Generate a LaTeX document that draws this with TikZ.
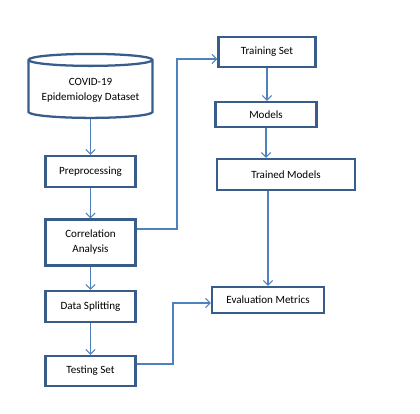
\documentclass[tikz,border=0pt]{standalone}
\usepackage{fontspec}
\setmainfont{Carlito}
\usetikzlibrary{shapes.geometric,arrows.meta}

\begin{document}
\begin{tikzpicture}[x=0.75pt,y=0.75pt,yscale=-1,xscale=1,
  box/.style={draw={rgb, 255:red, 56; green, 93; blue, 138}, line width=1.7pt, fill=white, inner sep=0.75pt, align=center, font=\fontsize{8.3}{11.2}\selectfont},
  arr/.style={draw={rgb, 255:red, 79; green, 129; blue, 189}, line width=0.8pt, -{Straight Barb[length=3.5pt,width=7pt]}}]
%set diagram left start at 0, and has height of 413
\useasboundingbox (0,0) rectangle (420,413);

%Shape: Can [id:data]
\node [box, cylinder, shape border rotate=90, aspect=0.12, minimum width=93pt, minimum height=48pt] (data) at (90.5,90) {COVID-19\\Epidemiology Dataset};
%Shape: Rectangle [id:prep]
\node [box, minimum width=67.5pt, minimum height=23.25pt] (prep) at (90.5,171.5) {Preprocessing};
%Shape: Rectangle [id:corr]
\node [box, minimum width=67.5pt, minimum height=34.5pt] (corr) at (90.5,242.5) {Correlation\\Analysis};
%Shape: Rectangle [id:split]
\node [box, minimum width=67.5pt, minimum height=23.25pt] (split) at (90.5,306.5) {Data Splitting};
%Shape: Rectangle [id:test]
\node [box, minimum width=67.5pt, minimum height=22.5pt] (test) at (90.5,371) {Testing Set};
%Shape: Rectangle [id:train]
\node [box, minimum width=72.75pt, minimum height=22.5pt] (train) at (267,52) {Training Set};
%Shape: Rectangle [id:models]
\node [box, minimum width=75.75pt, minimum height=18.75pt] (models) at (266,114.5) {Models};
%Shape: Rectangle [id:trained]
\node [box, minimum width=103.5pt, minimum height=23.25pt] (trained) at (286,174.5) {Trained Models};
%Shape: Rectangle [id:eval]
\node [box, minimum width=84pt, minimum height=19.5pt] (eval) at (268,300) {Evaluation Metrics};

%Straight Lines [id:left column]
\draw [arr] (data.south) -- (prep.north);
\draw [arr] (prep.south) -- (corr.north);
\draw [arr] (corr.south) -- (split.north);
\draw [arr] (split.south) -- (test.north);
%Straight Lines [id:right column]
\draw [arr] (train.south) -- (train.south |- models.north);
\draw [arr] (models.south) -- (models.south |- trained.north);
\draw [arr] (eval.north |- trained.south) -- (eval.north);
%Elbow Lines [id:crossing]
\draw [arr] (corr.east |- 0,229) -| (177,59) -- (train.west |- 0,59);
\draw [arr] (test.east |- 0,364) -| (173,303) -- (eval.west |- 0,303);
\end{tikzpicture}
\end{document}
